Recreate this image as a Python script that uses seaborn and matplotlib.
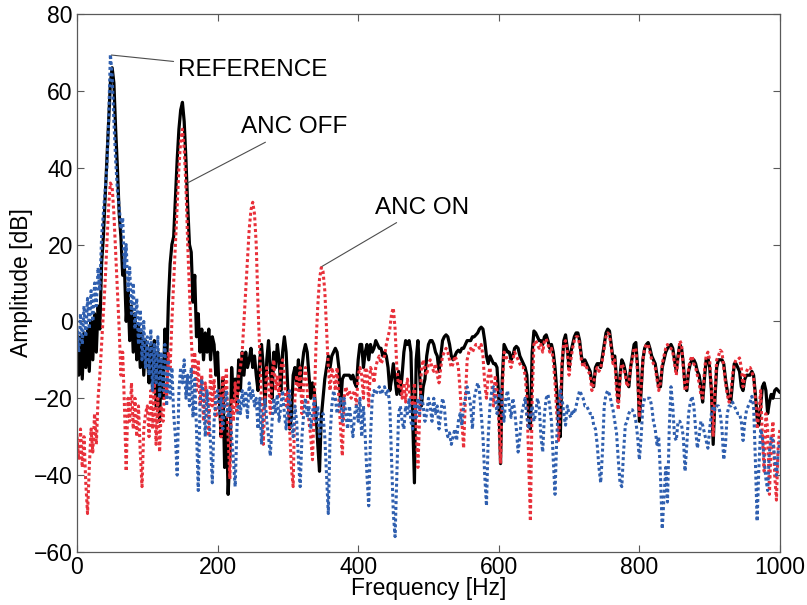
import numpy as np
import pandas as pd
import seaborn as sns
import matplotlib.pyplot as plt

# frequency grid, 2.5 Hz step (0 .. 1000 Hz)
freq = np.arange(0, 1000.1, 2.5)

# ANC OFF (black solid)
anc_off = [
    -8, -14, -4, -15, -3, -12, -2, -13, 0, -10, 2, -8, 4, -2, 15, 22, 32, 42, 52, 62,
    66, 62, 50, 40, 28, 22, 12, 14, 0, 8, -5, 4, -8, 2, -10, -1, -12, -3, -14, -5,
    -8, -16, -6, -18, -5, -22, -8, -26, -10, -20, -2, -12, 5, 15, 20, 22, 32, 42, 50, 55,
    57, 52, 42, 30, 20, 18, 5, 12, -4, 2, -8, -2, -10, -3, -8, -2, -10, -4, -6, -14,
    -8, -20, -30, -15, -38, -25, -45, -35, -12, -20, -15, -22, -10, -18, -8, -14, -8, -12, -10, -7,
    -12, -9, -14, -18, -10, -6, -12, -22, -10, -5, -12, -20, -8, -12, -6, -10, -18, -8, -4, -8,
    -18, -28, -25, -14, -12, -16, -10, -18, -12, -8, -6, -8, -14, -20, -16, -18, -24, -32, -39, -25,
    -20, -15, -12, -9, -12, -9, -8, -7, -8, -12, -22, -15, -14, -14, -14, -14, -15, -14, -16, -17,
    -10, -6, -6, -12, -8, -6, -10, -6, -8, -7, -5, -6, -7, -7, -9, -8, -9, -12, -18, -15,
    -11, -15, -19, -13, -19, -14, -8, -5, -6, -5, -8, -25, -42, -10, -5, -14, -22, -17, -15, -9,
    -6, -5, -5, -6, -8, -9, -13, -9, -5, -4, -3.5, -4, -6, -9, -10, -9, -8, -7.5, -8, -7,
    -7, -6, -5, -5, -5, -4, -4, -3.5, -3, -2, -1.5, -2, -5, -9, -11, -9, -10, -11, -11, -12,
    -20, -37, -15, -6, -7, -8, -8, -10, -9, -7, -6.5, -7, -9, -10, -11, -12, -14, -25, -28, -8,
    -2.5, -3, -4, -5, -5, -6, -4, -3.5, -5, -7, -6, -8, -12, -18, -26, -30, -12, -5, -3.5, -7,
    -12, -8, -6, -4, -3, -3, -5, -9, -11, -10, -11, -12, -13, -16, -17, -12, -11, -11, -12, -9,
    -6, -3, -2, -2.5, -6, -10, -9, -15, -21, -14, -10, -11, -13, -16, -17, -12, -9, -6, -5.5, -12,
    -26, -18, -10, -7, -6, -5.5, -7, -9, -10, -11, -14, -17, -17, -12, -10, -8, -7, -6.5, -6, -7,
    -10, -13, -9, -6, -7, -11, -17, -18, -13, -11, -10, -10, -11, -13, -14, -17, -21, -15, -10, -9.5,
    -12, -18, -32, -20, -12, -10, -10, -10, -11, -15, -18, -20, -21, -16, -11, -11, -12, -13, -17, -18,
    -15, -14, -14, -14, -13, -14, -19, -25, -27, -22, -17, -16, -18, -24, -21, -19, -20, -18, -17.5, -18,
    -18.5,
]

# REFERENCE (blue dotted)
reference = [
    -2, -8, 2, -6, 4, -4, 6, -2, 8, 0, 10, 4, 14, 8, 22, 28, 34, 40, 52, 69.5,
    64, 52, 42, 34, 30, 24, 27, 14, 20, 8, 14, 2, 10, -2, 6, -6, 3, -10, 0, -12,
    -4, -14, -2, -18, -6, -16, -4, -20, -8, -18, -6, -22, -10, -20, -12, -24, -30, -40, -18, -12,
    -16, -10, -20, -14, -22, -12, -25, -15, -28, -44, -22, -15, -20, -30, -18, -24, -32, -42, -26, -20,
    -18, -24, -20, -28, -22, -18, -25, -22, -30, -36, -43, -28, -20, -24, -18, -22, -18, -25, -16, -20,
    -18, -22, -20, -28, -20, -32, -24, -20, -26, -30, -35, -26, -20, -24, -19, -26, -22, -18, -24, -28,
    -22, -18, -26, -30, -22, -26, -36, -43, -30, -24, -20, -25, -22, -28, -24, -20, -26, -22, -30, -26,
    -24, -30, -40, -50, -30, -22, -18, -20, -24, -22, -20, -26, -20, -24, -28, -22, -26, -30, -24, -22,
    -26, -20, -30, -22, -30, -40, -48, -30, -20, -18, -19, -18, -17, -19, -18, -17, -19, -18, -22, -36,
    -50, -56, -40, -24, -22, -26, -28, -22, -24, -20, -26, -28, -22, -25, -20, -24, -19, -22, -26, -24,
    -20, -22, -26, -20, -24, -22, -28, -24, -20, -22, -28, -30, -29, -32, -30, -28, -31, -26, -24, -27,
    -22, -20, -17, -19, -22, -28, -20, -18, -16, -18, -24, -30, -40, -48, -30, -22, -18, -17, -20, -24,
    -20, -18, -22, -26, -20, -18, -22, -25, -20, -23, -28, -34, -30, -24, -22, -20, -25, -28, -24, -22,
    -26, -24, -20, -22, -30, -34, -24, -20, -19, -22, -26, -36, -45, -30, -22, -18, -20, -24, -27, -22,
    -24, -25, -23, -24, -22, -20, -18, -19, -20, -22, -22, -23, -24, -24, -27, -28, -32, -38, -42, -34,
    -22, -19, -18, -19, -21, -23, -26, -29, -36, -42, -43, -34, -27, -26, -24, -23, -23, -24, -26, -30,
    -36, -30, -22, -20, -20, -20, -20, -22, -26, -28, -32, -30, -40, -54, -46, -38, -47, -28, -17, -22,
    -30, -31, -26, -26, -27, -30, -39, -32, -24, -21, -19.5, -22, -28, -33, -30, -26, -27, -29, -31, -33,
    -28, -24, -22, -23, -22, -22, -24, -28, -36, -32, -24, -22, -22, -21, -22, -23, -24, -24, -26, -31,
    -26, -23, -22, -21, -19.5, -22, -36, -52, -38, -28, -30, -36, -41, -44, -34, -30, -31, -36, -40, -34,
    -31,
]

# ANC ON (red dotted)
anc_on = [
    -30, -36, -28, -38, -30, -42, -50, -38, -28, -34, -24, -32, -20, -14, -6, 2, 10, 20, 30, 36,
    35, 28, 18, 8, -2, -14, -8, -22, -39, -20, -26, -16, -28, -20, -30, -22, -34, -43, -28, -24,
    -22, -30, -18, -28, -16, -32, -20, -34, -22, -26, -16, -20, -8, -12, 0, 10, 20, 30, 40, 47,
    50, 45, 35, 20, 8, -4, -14, -8, -18, -10, -22, -14, -26, -16, -20, -30, -12, -22, -15, -25,
    -24, -18, -30, -14, -22, -12, -30, -41, -20, -26, -16, -24, -14, -12, -8, 0, 8, 16, 24, 29,
    31, 28, 20, 4, -8, -22, -32, -20, -12, -16, -24, -14, -10, -18, -14, -20, -12, -10, -14, -22,
    -18, -28, -38, -43, -20, -14, -18, -12, -24, -16, -12, -18, -26, -30, -36, -22, -6, 4, 11, 14,
    13, 8, -2, -12, -18, -12, -14, -18, -12, -20, -28, -35, -20, -17, -19, -18, -20, -19, -18, -22,
    -14, -12, -14, -20, -12, -13, -22, -12, -13, -16, -12, -10, -9, -11, -10, -9, -6, -4, -2, 2,
    3.5, -2, -12, -17, -15, -20, -16, -21, -15, -18, -20, -22, -16, -28, -38, -24, -12, -10, -13, -14,
    -11, -10, -12, -13, -11, -14, -16, -12, -9, -8, -7, -8, -10, -12, -11, -9, -10, -12, -18, -26,
    -33, -20, -10, -8, -7, -8, -7, -6, -6, -7, -6, -9, -16, -20, -14, -12, -16, -22, -14, -18,
    -26, -37, -18, -8, -9, -10, -10, -12, -10, -8, -9, -10, -11, -12, -12, -14, -20, -36, -52, -20,
    -6, -5, -6, -7, -6, -8, -5, -4.5, -6, -8, -7, -10, -16, -24, -31, -22, -10, -6, -5, -8,
    -14, -10, -7, -5, -4, -4, -6, -10, -12, -11, -12, -13, -14, -18, -16, -13, -12, -13, -12, -10,
    -7, -4, -3, -3.5, -7, -11, -10, -18, -23, -15, -11, -12, -14, -17, -16, -12, -10, -7, -7, -14,
    -25, -17, -10, -7, -6, -6, -8, -10, -11, -12, -15, -18, -16, -11, -9, -7, -6, -7, -7, -8,
    -11, -14, -10, -5, -6, -12, -18, -17, -12, -10, -9, -11, -12, -14, -16, -19, -20, -13, -9, -8,
    -10, -18, -30, -18, -10, -9, -7.5, -8, -12, -16, -19, -21, -19, -14, -11, -10, -10, -9.5, -12, -17,
    -14, -13, -12, -12, -13, -15, -20, -28, -24, -18, -30, -39, -24, -28, -45, -32, -26, -40, -46.5, -32,
    -28,
]

df = pd.DataFrame({"freq": freq, "off": anc_off, "ref": reference, "on": anc_on})

sns.set_style("ticks")
plt.rcParams['font.family'] = ['Liberation Sans', 'DejaVu Sans']
plt.rcParams['text.color'] = 'black'
plt.rcParams['axes.labelcolor'] = 'black'

fig, ax = plt.subplots(figsize=(8.07, 6.05), dpi=100)
fig.subplots_adjust(left=0.0954, right=0.9665, bottom=0.0876, top=0.977)

red = "#e8303a"
blue = "#2f5faf"

sns.lineplot(data=df, x="freq", y="off", color="black", linewidth=2.3, estimator=None, ax=ax)
sns.lineplot(data=df, x="freq", y="on", color=red, linewidth=2.2, linestyle=(0, (1, 0.9)), estimator=None, ax=ax)
sns.lineplot(data=df, x="freq", y="ref", color=blue, linewidth=2.2, linestyle=(0, (1, 0.9)), estimator=None, ax=ax)

ax.set_xlim(0, 1000)
ax.set_ylim(-60, 80)
ax.set_xticks(range(0, 1001, 200))
ax.set_yticks(range(-60, 81, 20))

for s in ax.spines.values():
    s.set_color("0.35")
    s.set_linewidth(0.9)
ax.tick_params(direction="in", top=True, right=True, length=5, width=0.8,
               color="0.35", labelsize=16.5, labelcolor="black", pad=3)

ax.set_xlabel("Frequency [Hz]", fontsize=16.5)
ax.set_ylabel("Amplitude [dB]", fontsize=16.5)
ax.xaxis.set_label_coords(0.5, -0.046)
ax.yaxis.set_label_coords(-0.062, 0.5)

line_kw = dict(arrowstyle="-", color="0.3", lw=0.8, shrinkA=1, shrinkB=0)
ax.annotate("REFERENCE", xy=(49, 69.3), xytext=(144, 65.5), fontsize=17.5,
            ha="left", va="center", arrowprops=line_kw)
ax.annotate("ANC OFF", xy=(157, 36), xytext=(233, 50.5), fontsize=17.5,
            ha="left", va="center", arrowprops=line_kw)
ax.annotate("ANC ON", xy=(348.5, 14.3), xytext=(424, 29.6), fontsize=17.5,
            ha="left", va="center", arrowprops=line_kw)

plt.savefig("out.png", dpi=100)
plt.close()
